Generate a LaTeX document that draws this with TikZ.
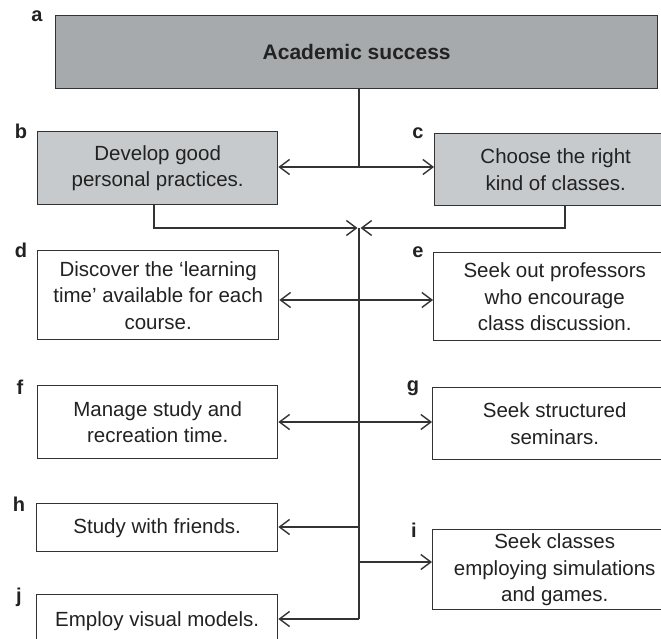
\documentclass[tikz,border=0pt]{standalone}
\usepackage{fontspec}
\setmainfont{Liberation Sans}
\usetikzlibrary{arrows.meta}
\definecolor{boxline}{HTML}{333333}
\definecolor{txt}{HTML}{222222}
\definecolor{topfill}{HTML}{A6AAAD}
\definecolor{midfill}{HTML}{C6CACD}
\begin{document}
\begin{tikzpicture}[x=1pt,y=-1pt,
  box/.style={draw=boxline, line width=1.4pt, inner sep=0pt, anchor=north west,
    align=center, text=txt, font=\fontsize{20.5}{26.5}\selectfont},
  lbl/.style={text=txt, inner sep=0pt, font=\fontsize{20}{20}\selectfont\bfseries},
  link/.style={draw=boxline, line width=1.4pt},
  arr/.style={link, -{Straight Barb[length=10pt,width=15pt,line width=1.4pt]}},
  dbl/.style={link, {Straight Barb[length=10pt,width=15pt,line width=1.4pt]}-{Straight Barb[length=10pt,width=15pt,line width=1.4pt]}}]
\useasboundingbox (0,0) rectangle (661,639);
\clip (0,0) rectangle (661,639);
\fill[white] (0,0) rectangle (661,639);

% boxes
\node[box, fill=topfill, minimum width=602pt, minimum height=73pt,
      font=\fontsize{21}{26}\selectfont\bfseries] (a) at (55,15) {Academic success};
\node[box, fill=midfill, minimum width=240pt, minimum height=73pt] (b) at (37,131)
  {Develop good\\personal practices.};
\node[box, fill=midfill, minimum width=242pt, minimum height=72pt] (c) at (434,133)
  {Choose the right\\kind of classes.};
\node[box, minimum width=241pt, minimum height=89pt] (d) at (37,250)
  {Discover the ‘learning\\time’ available for each\\course.};
\node[box, minimum width=242pt, minimum height=88pt] (e) at (433,252)
  {Seek out professors\\who encourage\\class discussion.};
\node[box, minimum width=240pt, minimum height=73pt] (f) at (37,385)
  {Manage study and\\recreation time.};
\node[box, minimum width=244pt, minimum height=72pt] (g) at (432,387)
  {Seek structured\\seminars.};
\node[box, minimum width=241pt, minimum height=48pt] (h) at (36,503)
  {Study with friends.};
\node[box, minimum width=244pt, minimum height=80pt] (i) at (432,529)
  {Seek classes\\employing simulations\\and games.};
\node[box, minimum width=241pt, minimum height=52pt] (j) at (36,594)
  {Employ visual models.};

% letters
\node[lbl] (la) at (37,16) {a};
\node[lbl] (lb) at (21,131) {b};
\node[lbl] (lc) at (418,133) {c};
\node[lbl] (ld) at (21,250) {d};
\node[lbl] (le) at (418,252) {e};
\node[lbl] (lf) at (20,387) {f};
\node[lbl] (lg) at (413,388) {g};
\node[lbl] (lh) at (19,504) {h};
\node[lbl] (li) at (414,530) {i};
\node[lbl] (lj) at (19,597) {j};

% trunk points
\coordinate (t1) at (359,167);
\coordinate (t2) at (359,228);
\coordinate (bj) at (154,228);
\coordinate (cj) at (565,228);
\coordinate (kd) at (359,300);
\coordinate (kf) at (359,422);
\coordinate (kh) at (359,527);
\coordinate (ki) at (359,562);
\coordinate (kj) at (359,619);

% connectors
\draw[link] (a.south -| t1) -- (t1);
\draw[dbl] (b.east |- t1) -- (c.west |- t1);
\draw[arr] (b.south -| bj) |- ([xshift=-1.5pt]t2);
\draw[arr] (c.south -| cj) |- ([xshift=1.5pt]t2);
\draw[link] (t2) -- (kj);
\draw[dbl] (d.east |- kd) -- (e.west |- kd);
\draw[dbl] (f.east |- kf) -- (g.west |- kf);
\draw[arr] (kh) -- (h.east |- kh);
\draw[arr] (ki) -- (i.west |- ki);
\draw[arr] (kj) -- (j.east |- kj);
\end{tikzpicture}
\end{document}
